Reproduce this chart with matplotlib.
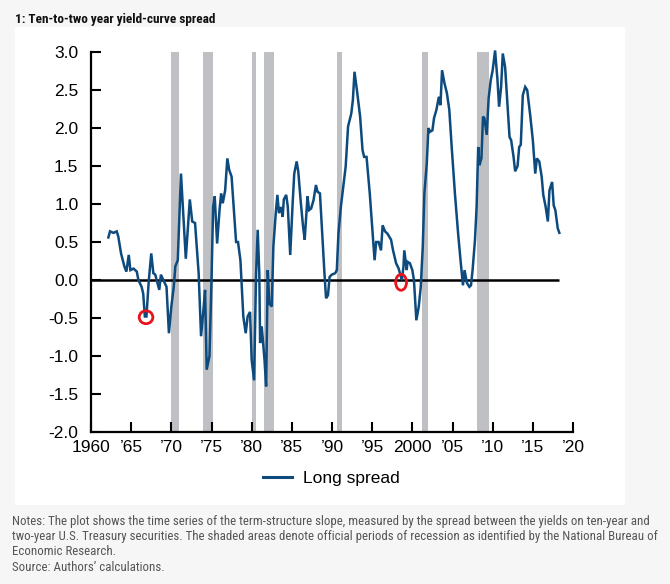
import matplotlib
matplotlib.use("Agg")
import matplotlib.pyplot as plt
from matplotlib.patches import Ellipse, Rectangle
from matplotlib.lines import Line2D
from matplotlib import font_manager

# ---------------- data ----------------
years = [1962.16, 1962.37, 1962.8, 1963.2, 1963.4, 1963.74, 1964.15, 1964.4, 1964.7, 1964.9,
         1965.3, 1965.7, 1965.9, 1966.3, 1966.5, 1966.7, 1966.9, 1967.2, 1967.5, 1967.76,
         1968.0, 1968.5, 1968.7, 1969.0, 1969.4, 1969.7, 1970.0, 1970.3, 1970.5, 1970.8,
         1971.2, 1971.5, 1971.8, 1972.3, 1972.6, 1972.95, 1973.4, 1973.7, 1974.0, 1974.2,
         1974.4, 1974.75, 1975.0, 1975.2, 1975.4, 1975.7, 1976.0, 1976.2, 1976.4, 1976.7,
         1976.97, 1977.2, 1977.5, 1978.06, 1978.3, 1978.6, 1978.96, 1979.26, 1979.5, 1979.8,
         1980.0, 1980.3, 1980.55, 1980.75, 1980.95, 1981.05, 1981.25, 1981.6, 1981.8, 1982.0,
         1982.2, 1982.5, 1982.7, 1983.0, 1983.2, 1983.4, 1983.66, 1983.86, 1984.0, 1984.3,
         1984.5, 1984.8, 1985.1, 1985.3, 1985.6, 1985.8, 1986.1, 1986.4, 1986.6, 1986.95,
         1987.15, 1987.4, 1987.7, 1988.0, 1988.2, 1988.5, 1988.8, 1989.06, 1989.26, 1989.5,
         1989.7, 1989.96, 1990.4, 1990.6, 1990.8, 1991.1, 1991.4, 1991.7, 1992.0, 1992.4,
         1992.6, 1992.8, 1993.1, 1993.5, 1993.8, 1994.0, 1994.3, 1994.7, 1995.06, 1995.3,
         1995.5, 1995.8, 1996.1, 1996.3, 1996.6, 1996.9, 1997.35, 1997.6, 1997.98, 1998.3,
         1998.5, 1998.7, 1998.9, 1999.0, 1999.3, 1999.4, 1999.7, 2000.0, 2000.2, 2000.5,
         2000.8, 2001.05, 2001.3, 2001.5, 2001.8, 2002.0, 2002.2, 2002.5, 2002.7, 2003.0,
         2003.3, 2003.5, 2003.7, 2004.0, 2004.3, 2004.6, 2004.9, 2005.3, 2005.7, 2006.0,
         2006.3, 2006.5, 2006.8, 2007.1, 2007.3, 2007.5, 2007.8, 2008.0, 2008.2, 2008.35,
         2008.6, 2008.8, 2008.97, 2009.26, 2009.5, 2009.76, 2010.0, 2010.3, 2010.6, 2010.8,
         2011.05, 2011.26, 2011.55, 2011.84, 2012.1, 2012.3, 2012.6, 2012.8, 2013.1, 2013.3,
         2013.5, 2013.75, 2014.05, 2014.3, 2014.67, 2015.0, 2015.3, 2015.5, 2015.8, 2016.1,
         2016.3, 2016.6, 2016.87, 2017.07, 2017.4, 2017.6, 2017.8, 2018.1, 2018.3]
spread = [0.56, 0.64, 0.62, 0.64, 0.57, 0.35, 0.18, 0.11, 0.33, 0.13,
          0.15, 0.11, 0.00, -0.09, -0.18, -0.48, -0.48, 0.00, 0.35, 0.09,
          0.07, -0.13, 0.07, 0.00, -0.09, -0.70, -0.35, -0.09, 0.18, 0.26,
          1.40, 0.83, 0.28, 1.06, 0.77, 0.75, 0.09, -0.74, -0.39, -0.13,
          -1.18, -1.00, 0.00, 0.96, 1.10, 0.48, 0.92, 1.14, 1.01, 1.18,
          1.60, 1.45, 1.36, 0.50, 0.50, 0.26, -0.48, -0.70, -0.48, -0.42,
          -1.05, -1.32, 0.09, 0.66, 0.09, -0.83, -0.61, -1.05, -1.40, 0.13,
          -0.31, -0.35, 0.44, 0.88, 1.12, 0.88, 0.96, 0.83, 1.06, 1.12,
          0.96, 0.33, 1.01, 1.40, 1.56, 1.43, 1.04, 0.70, 0.53, 1.10,
          0.92, 0.94, 1.05, 1.25, 1.16, 1.14, 0.57, 0.09, -0.24, -0.20,
          0.04, 0.07, 0.09, 0.13, 0.61, 0.96, 1.23, 1.49, 2.02, 2.19,
          2.37, 2.74, 2.50, 2.15, 1.71, 1.62, 1.62, 1.14, 0.61, 0.26,
          0.50, 0.50, 0.39, 0.72, 0.64, 0.61, 0.53, 0.39, 0.22, 0.15,
          0.07, 0.00, 0.18, 0.39, 0.13, 0.24, 0.22, 0.13, 0.00, -0.53,
          -0.35, -0.09, 0.44, 1.14, 1.54, 2.00, 1.95, 1.97, 2.13, 2.24,
          2.41, 2.30, 2.76, 2.59, 2.46, 2.24, 1.75, 1.14, 0.61, 0.26,
          -0.07, 0.13, -0.04, -0.09, -0.07, 0.13, 0.53, 0.96, 1.75, 1.51,
          1.60, 2.15, 2.13, 1.91, 2.39, 2.63, 2.76, 3.02, 2.63, 2.28,
          2.54, 2.98, 2.80, 2.32, 1.88, 1.84, 1.62, 1.43, 1.50, 1.75,
          1.78, 2.43, 2.54, 2.50, 2.17, 1.84, 1.40, 1.60, 1.56, 1.36,
          1.12, 0.96, 0.77, 1.18, 1.29, 0.98, 0.92, 0.68, 0.62]

recession_starts = [1969.95, 1973.9, 1980.05, 1981.55, 1990.6, 2001.25, 2008.05]
recession_ends = [1970.9, 1975.15, 1980.5, 1982.8, 1991.2, 2001.9, 2009.5]

highlight_years = [1966.85, 1998.6]
highlight_values = [-0.49, -0.03]

xtick_values = [1960, 1965, 1970, 1975, 1980, 1985, 1990, 1995, 2000, 2005, 2010, 2015, 2020]
xtick_labels = ["1960", "\u201965", "\u201970", "\u201975", "\u201980", "\u201985", "\u201990",
                "\u201995", "2000", "\u201905", "\u201910", "\u201915", "\u201920"]
ytick_values = [3.0, 2.5, 2.0, 1.5, 1.0, 0.5, 0.0, -0.5, -1.0, -1.5, -2.0]

title_text = "1: Ten-to-two year yield-curve spread"
notes_text = ("Notes: The plot shows the time series of the term-structure slope, measured by the spread between the yields on ten-year and\n"
              "two-year U.S. Treasury securities. The shaded areas denote official periods of recession as identified by the National Bureau of\n"
              "Economic Research.\n"
              "Source: Authors\u2019 calculations.")
legend_label = "Long spread"

# ---------------- style ----------------
LINE_C = "#0d4a7d"
BAND_C = "#bfc0c4"

installed = {f.name for f in font_manager.fontManager.ttflist}
if "Roboto Condensed" in installed:
    NARROW, TITLE_FS, NOTE_FS = ["Roboto Condensed", "DejaVu Sans"], 9.5, 9.25
elif "Liberation Sans Narrow" in installed:
    NARROW, TITLE_FS, NOTE_FS = ["Liberation Sans Narrow", "DejaVu Sans"], 9.5, 9.25
else:
    NARROW, TITLE_FS, NOTE_FS = ["Roboto", "DejaVu Sans"], 8.4, 8.4

plt.rcParams["font.family"] = ["Liberation Sans", "DejaVu Sans"]

W, H = 670, 584
fig = plt.figure(figsize=(W / 100, H / 100), dpi=100, facecolor="#f6f6f6")

# white panel (behind everything)
panel = Rectangle((15 / W, 1 - 505 / H), (625 - 15) / W, (505 - 27) / H,
                  transform=fig.transFigure, facecolor="white", edgecolor="none", zorder=-10)
fig.patches.append(panel)

ax = fig.add_axes([91 / W, 1 - 432 / H, (573 - 91) / W, (432 - 52) / H])
ax.set_facecolor("none")
ax.set_zorder(5)

for s, e in zip(recession_starts, recession_ends):
    ax.axvspan(s, e, color=BAND_C, lw=0, zorder=1)

ax.plot([1960, years[-1]], [0, 0], color="black", lw=1.8, zorder=2, solid_capstyle="butt")
ax.plot(years, spread, color=LINE_C, lw=1.8, zorder=3, clip_on=False, solid_joinstyle="miter")

for hx, hy, w, h in zip(highlight_years, highlight_values, [1.7, 1.35], [0.17, 0.21]):
    ax.add_patch(Ellipse((hx, hy), w, h, facecolor="none", edgecolor="#e8141c",
                         lw=2.0, zorder=4, clip_on=False))

ax.set_xlim(1960, 2020)
ax.set_ylim(-2.0, 3.0)
for sp in ["top", "right"]:
    ax.spines[sp].set_visible(False)
for sp in ["left", "bottom"]:
    ax.spines[sp].set_linewidth(1.6)
    ax.spines[sp].set_color("black")

ax.set_xticks(xtick_values)
ax.set_xticklabels(xtick_labels)
ax.set_yticks(ytick_values)
ax.set_yticklabels([f"{v:.1f}" for v in ytick_values])
ax.tick_params(axis="both", direction="in", length=7, width=1.5, labelsize=12.5, colors="black")
ax.tick_params(axis="x", pad=6)
ax.tick_params(axis="y", pad=9)

# legend
handle = Line2D([], [], color=LINE_C, lw=2.2)
fig.legend([handle], [legend_label], loc="center", bbox_to_anchor=(331 / W, 1 - 478 / H),
           frameon=False, fontsize=12.5, handlelength=1.7, handletextpad=0.6)

fig.text(15 / W, 1 - 19 / H, title_text, family=NARROW, weight="bold", fontsize=TITLE_FS,
         va="center", ha="left", color="#111111")
fig.text(12 / W, 1 - 515 / H, notes_text, family=NARROW, fontsize=NOTE_FS, va="top", ha="left",
         color="#555555", linespacing=1.22)

fig.savefig("out.png", dpi=100, facecolor=fig.get_facecolor())
